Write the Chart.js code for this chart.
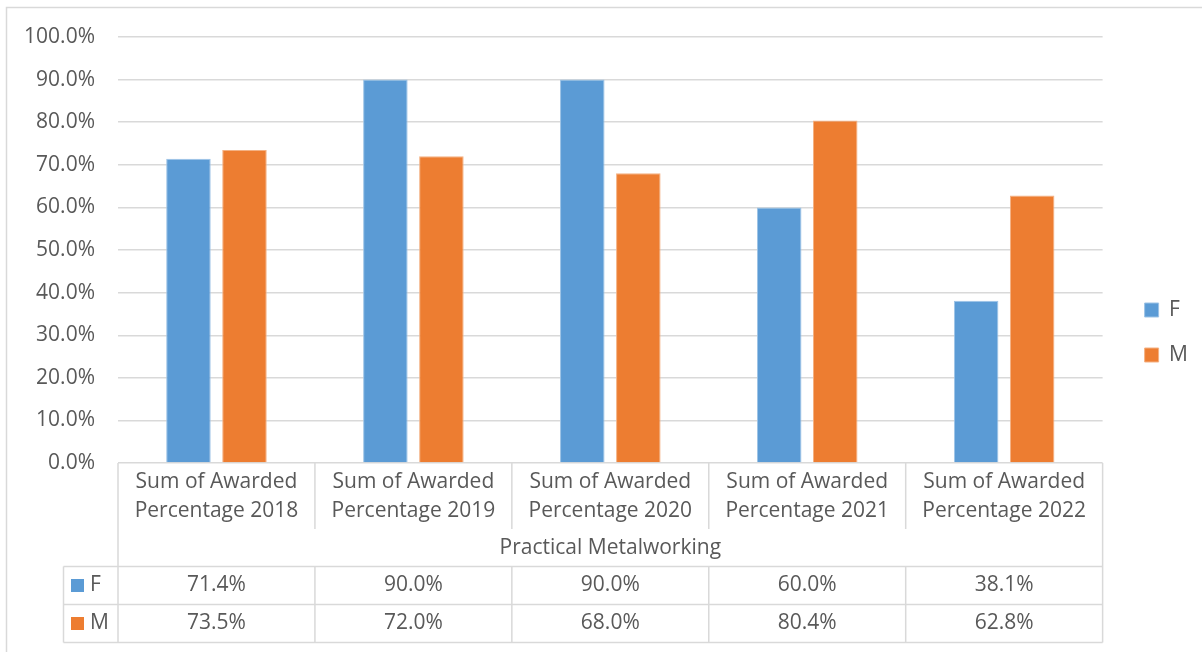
<!DOCTYPE html>
<html>
<head>
<meta charset="utf-8">
<script src="https://cdn.jsdelivr.net/npm/chart.js@4"></script>
<style>
  html, body { margin: 0; padding: 0; background: #fff; }
  #wrap { position: relative; width: 1202px; height: 652px; }
</style>
</head>
<body>
<div id="wrap"><canvas id="awardChart" width="1202" height="652"></canvas></div>
<script>
// chart data
const categories = [
    ["Sum of Awarded", "Percentage 2018"],
    ["Sum of Awarded", "Percentage 2019"],
    ["Sum of Awarded", "Percentage 2020"],
    ["Sum of Awarded", "Percentage 2021"],
    ["Sum of Awarded", "Percentage 2022"]
];
const groupLabel = "Practical Metalworking";
const seriesNames = ["F", "M"];
const femaleValues = [71.4, 90.0, 90.0, 60.0, 38.1];
const maleValues = [73.5, 72.0, 68.0, 80.4, 62.8];
const yTicks = [0, 10, 20, 30, 40, 50, 60, 70, 80, 90, 100];

const textColor = "#595959";
const lineColor = "#d9d9d9";
const fontFamily = "'Open Sans', sans-serif";
const fontSize = 21;
const seriesColors = ["#5B9BD5", "#ED7D31"];
const seriesEdges = ["#9dc3e6", "#f4b183"];

const fmt = (v) => v.toFixed(1) + "%";

// outer frame (only top and left edges show in the crop)
const framePlugin = {
    id: "frame",
    beforeDraw(chart) {
        const ctx = chart.ctx;
        ctx.save();
        ctx.fillStyle = "#fff";
        ctx.fillRect(0, 0, chart.width, chart.height);
        ctx.strokeStyle = lineColor;
        ctx.lineWidth = 1.5;
        ctx.strokeRect(6.5, 7.5, 1300, 800);
        ctx.restore();
    }
};

// nudge the legend a bit away from the plot, like Excel does
const legendGapPlugin = {
    id: "legendGap",
    afterLayout(chart) {
        chart.legend.left += 18;
        chart.legend.right += 18;
    }
};

// Excel style data table under the plot
const tablePlugin = {
    id: "dataTable",
    afterDraw(chart) {
        const ctx = chart.ctx;
        const xScale = chart.scales.x;
        const area = chart.chartArea;
        const n = categories.length;
        const step = (area.right - area.left) / n;
        const y0 = area.bottom;
        const y1 = y0 + 66;
        const y2 = y0 + 103.5;
        const y3 = y0 + 141.5;
        const y4 = y0 + 179.5;
        const keyLeft = 63.5;

        ctx.save();
        ctx.strokeStyle = lineColor;
        ctx.lineWidth = 1.5;
        ctx.beginPath();
        // outer verticals
        ctx.moveTo(area.left, y0); ctx.lineTo(area.left, y4);
        ctx.moveTo(area.right, y0); ctx.lineTo(area.right, y4);
        // category dividers
        for (let i = 1; i < n; i++) {
            const xx = area.left + step * i;
            ctx.moveTo(xx, y0); ctx.lineTo(xx, y1);
            ctx.moveTo(xx, y2); ctx.lineTo(xx, y4);
        }
        // row lines
        [y2, y3, y4].forEach((yy) => {
            ctx.moveTo(keyLeft, yy); ctx.lineTo(area.right, yy);
        });
        ctx.moveTo(keyLeft, y2); ctx.lineTo(keyLeft, y4);
        ctx.stroke();

        ctx.fillStyle = textColor;
        ctx.font = fontSize + "px " + fontFamily;
        ctx.textBaseline = "middle";
        ctx.textAlign = "center";
        ctx.fillText(groupLabel, (area.left + area.right) / 2, (y1 + y2) / 2);

        const rows = [femaleValues, maleValues];
        rows.forEach((vals, r) => {
            const top = r === 0 ? y2 : y3;
            const bottom = r === 0 ? y3 : y4;
            const cy = (top + bottom) / 2;
            vals.forEach((v, i) => {
                ctx.textAlign = "center";
                ctx.fillStyle = textColor;
                ctx.fillText(fmt(v), xScale.getPixelForValue(i), cy);
            });
            ctx.fillStyle = seriesColors[r];
            ctx.fillRect(71, cy - 6.5, 13, 13);
            ctx.fillStyle = textColor;
            ctx.textAlign = "left";
            ctx.fillText(seriesNames[r], 90, cy);
        });
        ctx.restore();
    }
};

new Chart(document.getElementById("awardChart"), {
    type: "bar",
    data: {
        labels: categories,
        datasets: [
            {
                label: seriesNames[0],
                data: femaleValues,
                backgroundColor: seriesColors[0],
                borderColor: seriesEdges[0],
                borderWidth: 1
            },
            {
                label: seriesNames[1],
                data: maleValues,
                backgroundColor: seriesColors[1],
                borderColor: seriesEdges[1],
                borderWidth: 1
            }
        ]
    },
    options: {
        responsive: false,
        animation: false,
        layout: { padding: { top: 37, bottom: 24, left: 0, right: 22 } },
        datasets: {
            bar: { categoryPercentage: 0.569, barPercentage: 0.795 }
        },
        scales: {
            x: {
                grid: { display: false, drawTicks: false },
                border: { display: false },
                ticks: {
                    color: textColor,
                    font: { family: fontFamily, size: fontSize, lineHeight: 1.4 },
                    padding: 4,
                    maxRotation: 0,
                    autoSkip: false
                },
                afterFit: (scale) => { scale.height = 165; }
            },
            y: {
                min: 0,
                max: 100,
                afterBuildTicks: (scale) => {
                    scale.ticks = yTicks.map((v) => ({ value: v }));
                },
                grid: { color: lineColor, lineWidth: 1.4, drawTicks: false },
                border: { display: false },
                ticks: {
                    color: textColor,
                    font: { family: fontFamily, size: fontSize },
                    padding: 23,
                    callback: (v) => fmt(v)
                },
                afterFit: (scale) => { scale.width = 118; }
            }
        },
        plugins: {
            legend: {
                position: "right",
                labels: {
                    color: textColor,
                    font: { family: fontFamily, size: fontSize },
                    boxWidth: 14,
                    boxHeight: 14,
                    padding: 24
                }
            },
            tooltip: { enabled: false }
        }
    },
    plugins: [framePlugin, legendGapPlugin, tablePlugin]
});
</script>
</body>
</html>
